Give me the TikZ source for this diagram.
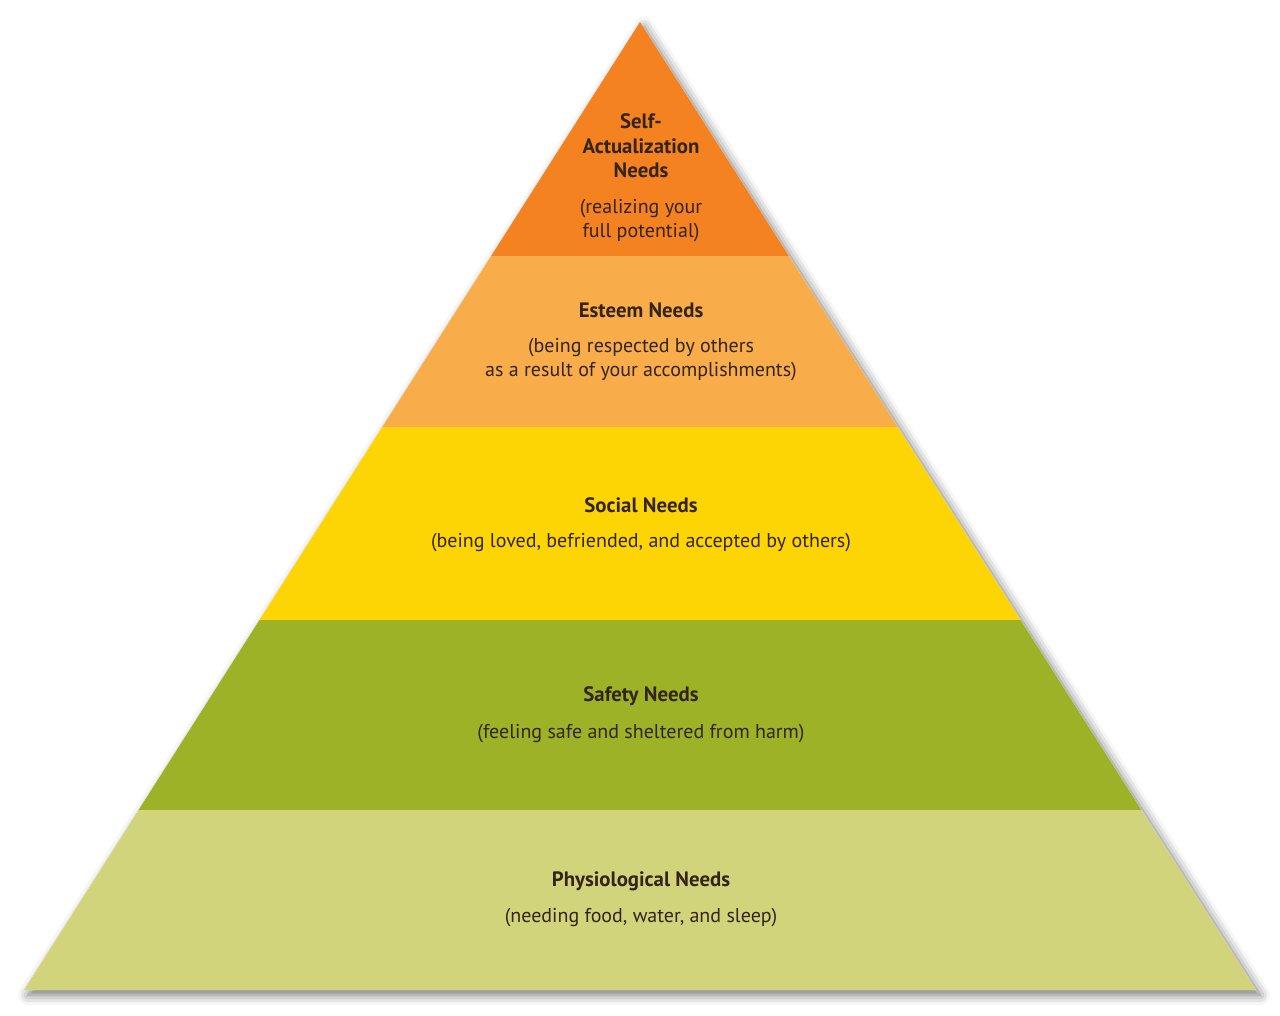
\documentclass[tikz,border=0pt]{standalone}
\usepackage{fontspec}
\setmainfont{PT Sans}
\usetikzlibrary{shadows.blur}
\definecolor{cself}{HTML}{F58220}
\definecolor{cesteem}{HTML}{F9AD4A}
\definecolor{csocial}{HTML}{FED504}
\definecolor{csafety}{HTML}{9DB227}
\definecolor{cphys}{HTML}{D2D47C}
\definecolor{ctext}{HTML}{33241A}
\begin{document}
\begin{tikzpicture}[x=1pt,y=-1pt,
  lbl/.style={text=ctext, align=center, font=\fontsize{20}{24}\selectfont, inner sep=0pt},
  ttl/.style={lbl, font=\fontsize{20.8}{24.5}\selectfont\bfseries}]
\useasboundingbox (0,0) rectangle (1280,1016);
\coordinate (apex) at (640,22);
\coordinate (bl) at (24,990);
\coordinate (br) at (1256,990);
\fill[white, blur shadow={shadow xshift=4pt, shadow yshift=-5pt, shadow blur radius=10pt, shadow opacity=55}] (apex) -- (bl) -- (br) -- cycle;
\begin{scope}
  \clip (apex) -- (bl) -- (br) -- cycle;
  \fill[cself]   (0,0)   rectangle (1280,256);
  \fill[cesteem] (0,256) rectangle (1280,427);
  \fill[csocial] (0,427) rectangle (1280,620);
  \fill[csafety] (0,620) rectangle (1280,810);
  \fill[cphys]   (0,810) rectangle (1280,1000);
\end{scope}
\node[ttl] (t1) at (641,146) {Self-\\Actualization\\Needs};
\node[lbl] (d1) at (641,221) {(realizing your\\full potential)};
\node[ttl] (t2) at (641,310) {Esteem Needs};
\node[lbl] (d2) at (641,360) {(being respected by others\\as a result of your accomplishments)};
\node[ttl] (t3) at (641,505) {Social Needs};
\node[lbl] (d3) at (641,543) {(being loved, befriended, and accepted by others)};
\node[ttl] (t4) at (641,696) {Safety Needs};
\node[lbl] (d4) at (641,734) {(feeling safe and sheltered from harm)};
\node[ttl] (t5) at (641,881) {Physiological Needs};
\node[lbl] (d5) at (641,918) {(needing food, water, and sleep)};
\end{tikzpicture}
\end{document}
